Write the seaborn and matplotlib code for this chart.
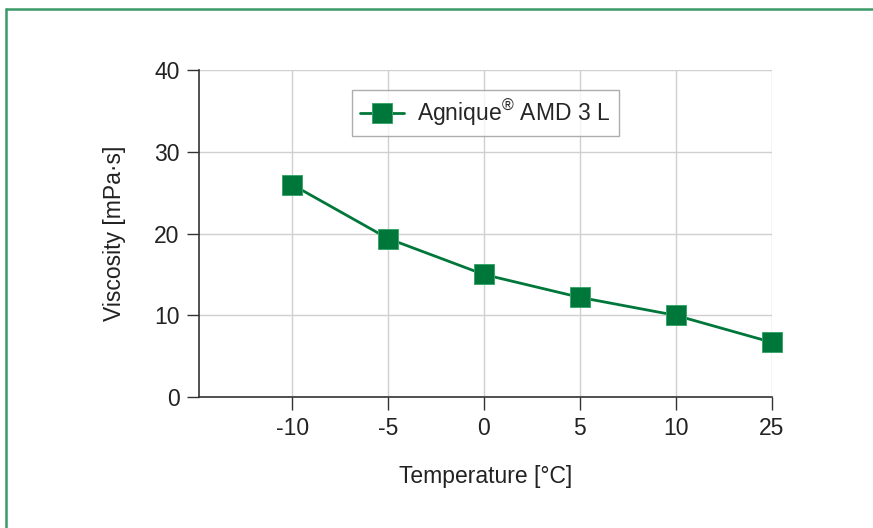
import matplotlib
matplotlib.use("Agg")
import matplotlib.pyplot as plt
import numpy as np
import pandas as pd
import seaborn as sns

# data
temperatures = ["-10", "-5", "0", "5", "10", "25"]
viscosity = [26.0, 19.4, 15.0, 12.2, 10.0, 6.7]
series_name = "Agnique$^{\\mathrm{®}}$ AMD 3 L"

sns.set_theme(style="white")
plt.rcParams["font.family"] = ["Liberation Sans", "DejaVu Sans"]
plt.rcParams["mathtext.fontset"] = "custom"
plt.rcParams["mathtext.rm"] = "Liberation Sans"
plt.rcParams["mathtext.it"] = "Liberation Sans:italic"

green = "#00773A"
df = pd.DataFrame({"pos": np.arange(len(temperatures)), "visc": viscosity})

fig = plt.figure(figsize=(8.73, 5.28), dpi=100)
ax = fig.add_axes([0.228, 0.248, 0.656, 0.619])

sns.lineplot(data=df, x="pos", y="visc", ax=ax, color=green, lw=2.0,
             marker="s", markersize=14.5, markeredgecolor="#3aa56a",
             markeredgewidth=0.7, label=series_name, zorder=3, clip_on=False)

ax.set_xlim(-0.97, len(temperatures) - 1)
ax.set_ylim(0, 40)
ax.set_xticks(df["pos"])
ax.set_xticklabels(temperatures)
ax.set_yticks([0, 10, 20, 30, 40])
ax.grid(True, color="#d0d0d0", lw=1.0)
ax.set_axisbelow(True)

for s in ["top", "right"]:
    ax.spines[s].set_visible(False)
for s in ["left", "bottom"]:
    ax.spines[s].set_color("#333333")
    ax.spines[s].set_linewidth(1.2)

ax.tick_params(axis="both", which="both", direction="out", length=9, width=1.0,
               color="#333333", labelsize=16.5, labelcolor="#222222", pad=5,
               left=True, bottom=True)
ax.tick_params(axis="x", pad=5)

ax.set_xlabel("Temperature [°C]", fontsize=16.5, color="#222222", labelpad=18)
ax.set_ylabel("Viscosity [mPa·s]", fontsize=16.5, color="#222222", labelpad=20)

leg = ax.legend(loc="upper center", bbox_to_anchor=(0.5, 0.939), fontsize=16.5,
                frameon=True, fancybox=False, handlelength=1.9,
                borderpad=0.35, handletextpad=0.6, borderaxespad=0)
leg.get_frame().set_edgecolor("#999999")
leg.get_frame().set_linewidth(1.0)

# green frame around the figure (top and left edges)
fig.add_artist(plt.Line2D([6 / 873, 1.0], [1 - 8.5 / 528, 1 - 8.5 / 528],
                          transform=fig.transFigure, color="#3a9a68", lw=1.8))
fig.add_artist(plt.Line2D([6 / 873, 6 / 873], [0, 1 - 8.5 / 528],
                          transform=fig.transFigure, color="#3a9a68", lw=1.8))

fig.savefig("out.png", dpi=100)
